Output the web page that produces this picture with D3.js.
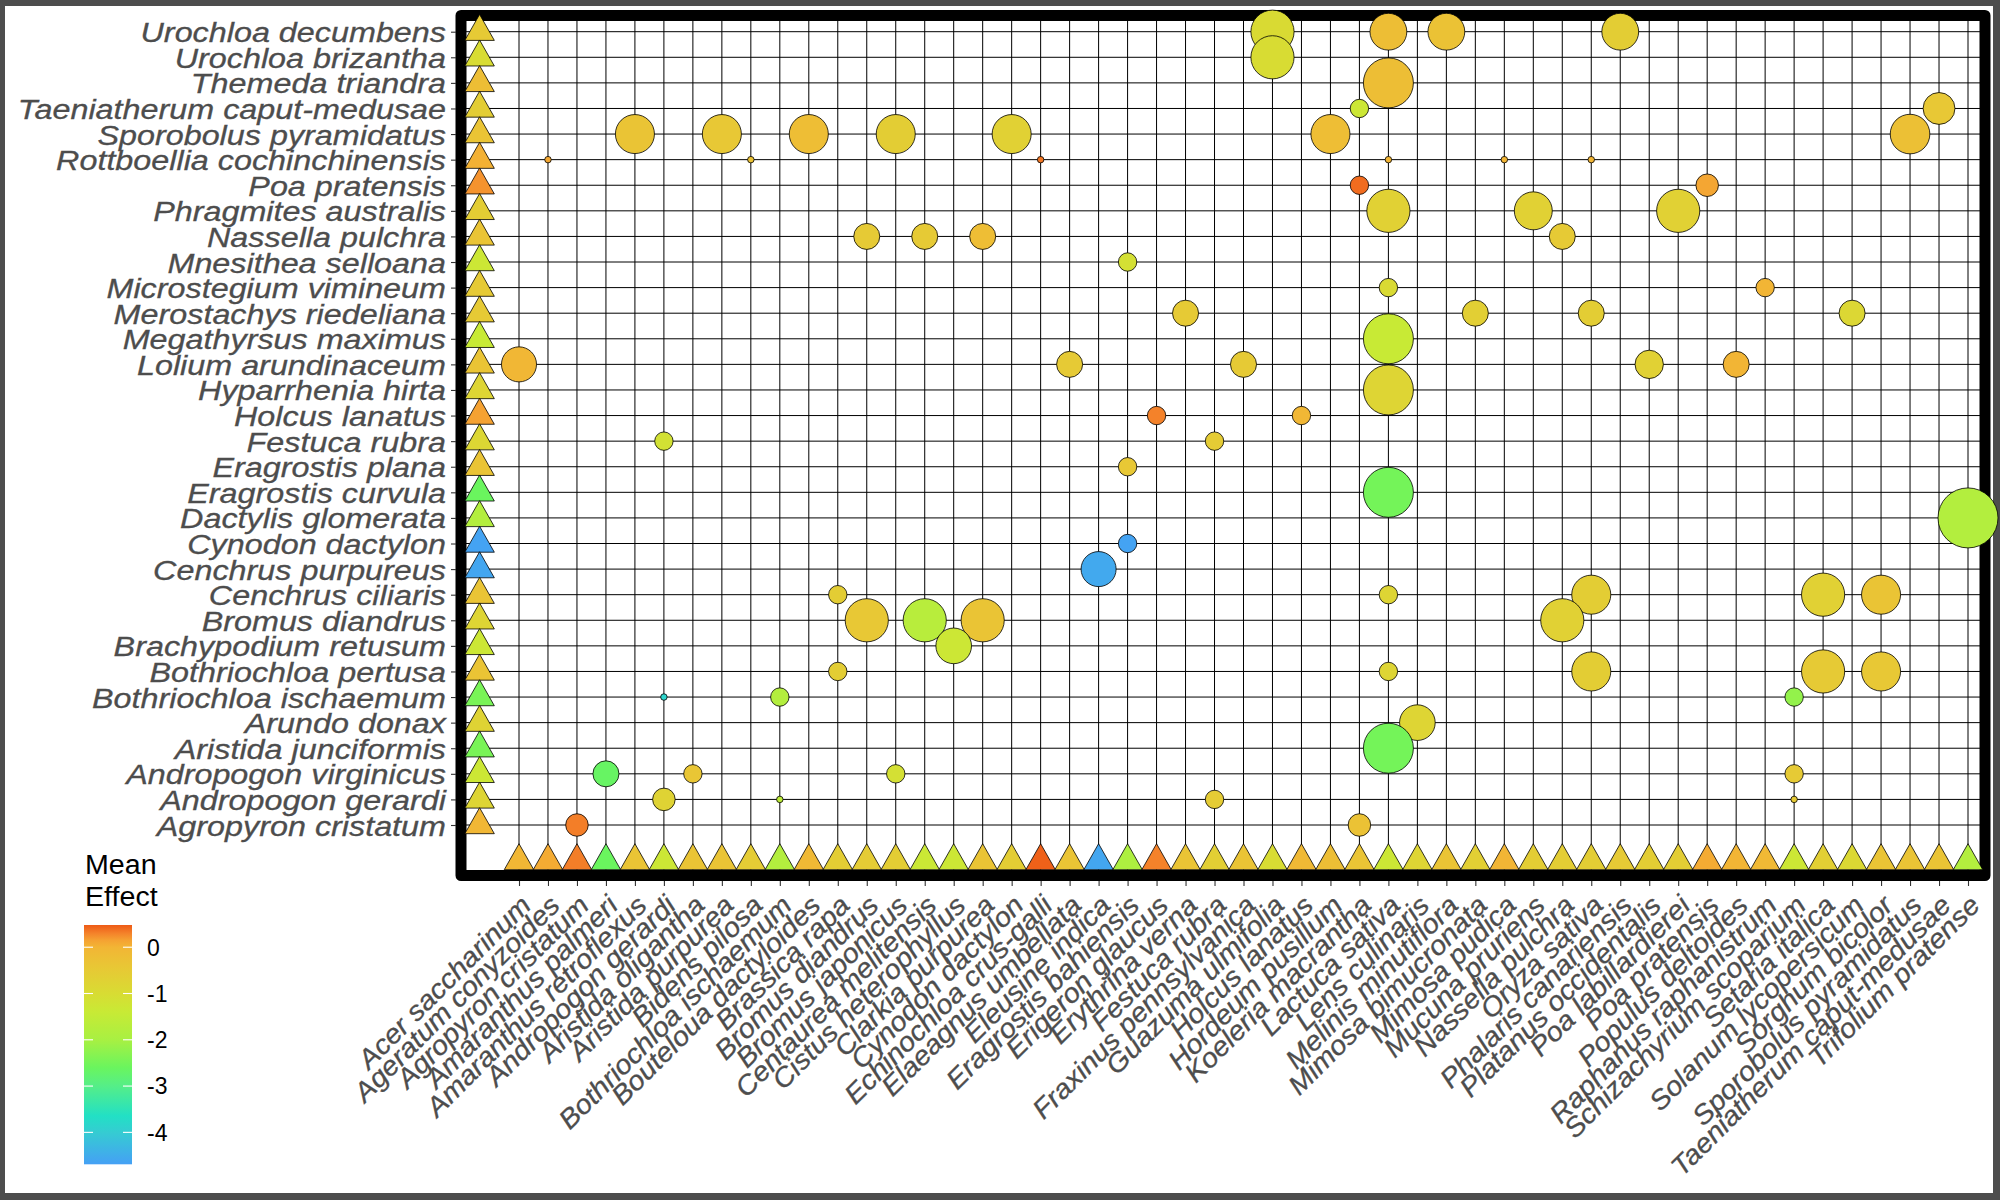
<!DOCTYPE html>
<html><head><meta charset="utf-8">
<script src="https://cdn.jsdelivr.net/npm/d3@7"></script>
<style>html,body{margin:0;padding:0;background:#fff}</style>
</head><body><svg id="c" width="2000" height="1200"></svg>
<script>
// ---------------- DATA ----------------
const rowSpecies = ["Urochloa decumbens","Urochloa brizantha","Themeda triandra","Taeniatherum caput-medusae","Sporobolus pyramidatus","Rottboellia cochinchinensis","Poa pratensis","Phragmites australis","Nassella pulchra","Mnesithea selloana","Microstegium vimineum","Merostachys riedeliana","Megathyrsus maximus","Lolium arundinaceum","Hyparrhenia hirta","Holcus lanatus","Festuca rubra","Eragrostis plana","Eragrostis curvula","Dactylis glomerata","Cynodon dactylon","Cenchrus purpureus","Cenchrus ciliaris","Bromus diandrus","Brachypodium retusum","Bothriochloa pertusa","Bothriochloa ischaemum","Arundo donax","Aristida junciformis","Andropogon virginicus","Andropogon gerardi","Agropyron cristatum"];
const rowMean = [-0.5,-1.0,-0.22,-0.6,-0.35,0.03,0.22,-0.6,-0.35,-1.3,-0.5,-0.5,-1.4,-0.35,-0.8,0.15,-0.85,-0.35,-2.6,-1.8,-4.65,-4.6,-0.35,-0.8,-1.3,-0.35,-2.45,-0.75,-2.45,-1.3,-0.8,-0.05];

const colSpecies = ["Acer saccharinum","Ageratum conyzoides","Agropyron cristatum","Amaranthus palmeri","Amaranthus retroflexus","Andropogon gerardi","Aristida oligantha","Aristida purpurea","Bidens pilosa","Bothriochloa ischaemum","Bouteloua dactyloides","Brassica rapa","Bromus diandrus","Bromus japonicus","Centaurea melitensis","Cistus heterophyllus","Clarkia purpurea","Cynodon dactylon","Echinochloa crus-galli","Elaeagnus umbellata","Eleusine indica","Eragrostis bahiensis","Erigeron glaucus","Erythrina verna","Festuca rubra","Fraxinus pennsylvanica","Guazuma ulmifolia","Holcus lanatus","Hordeum pusillum","Koeleria macrantha","Lactuca sativa","Lens culinaris","Melinis minutiflora","Mimosa bimucronata","Mimosa pudica","Mucuna pruriens","Nassella pulchra","Oryza sativa","Phalaris canariensis","Platanus occidentalis","Poa labillardierei","Poa pratensis","Populus deltoides","Raphanus raphanistrum","Schizachyrium scoparium","Setaria italica","Solanum lycopersicum","Sorghum bicolor","Sporobolus pyramidatus","Taeniatherum caput-medusae","Trifolium pratense"];
const colMean = [-0.05,0.08,0.32,-2.6,-0.35,-1.3,-0.35,-0.35,-0.55,-1.8,-0.1,-0.6,-0.55,-0.6,-1.35,-1.3,-0.35,-0.6,0.45,-0.35,-4.6,-1.9,0.3,-0.35,-0.65,-0.35,-1.0,-0.1,-0.22,-0.35,-1.3,-0.8,-0.35,-0.65,0.0,-0.6,-0.6,-0.6,-0.5,-0.6,-0.6,0.08,0.0,-0.1,-1.3,-0.65,-0.9,-0.35,-0.35,-0.35,-1.8];

// [row species, column species, number of observations, mean effect]
const effects = [
["Urochloa decumbens","Guazuma ulmifolia",44,-0.95],
["Urochloa decumbens","Lactuca sativa",32,-0.22],
["Urochloa decumbens","Melinis minutiflora",32,-0.3],
["Urochloa decumbens","Phalaris canariensis",32,-0.6],
["Urochloa brizantha","Guazuma ulmifolia",44,-1.0],
["Themeda triandra","Lactuca sativa",59,-0.22],
["Taeniatherum caput-medusae","Koeleria macrantha",8,-1.3],
["Taeniatherum caput-medusae","Taeniatherum caput-medusae",24,-0.45],
["Sporobolus pyramidatus","Amaranthus retroflexus",36,-0.35],
["Sporobolus pyramidatus","Aristida purpurea",36,-0.45],
["Sporobolus pyramidatus","Bouteloua dactyloides",36,-0.2],
["Sporobolus pyramidatus","Bromus japonicus",36,-0.6],
["Sporobolus pyramidatus","Cynodon dactylon",36,-0.7],
["Sporobolus pyramidatus","Hordeum pusillum",36,-0.2],
["Sporobolus pyramidatus","Sporobolus pyramidatus",37,-0.25],
["Rottboellia cochinchinensis","Ageratum conyzoides",1,0.1],
["Rottboellia cochinchinensis","Bidens pilosa",1,-0.3],
["Rottboellia cochinchinensis","Echinochloa crus-galli",1,0.35],
["Rottboellia cochinchinensis","Lactuca sativa",1,0.0],
["Rottboellia cochinchinensis","Mimosa pudica",1,0.0],
["Rottboellia cochinchinensis","Oryza sativa",1,0.0],
["Poa pratensis","Koeleria macrantha",8,0.4],
["Poa pratensis","Poa pratensis",12,0.12],
["Phragmites australis","Lactuca sativa",44,-0.7],
["Phragmites australis","Mucuna pruriens",34,-0.7],
["Phragmites australis","Poa labillardierei",44,-0.7],
["Nassella pulchra","Bromus diandrus",16,-0.5],
["Nassella pulchra","Centaurea melitensis",16,-0.5],
["Nassella pulchra","Clarkia purpurea",16,-0.2],
["Nassella pulchra","Nassella pulchra",16,-0.5],
["Mnesithea selloana","Eragrostis bahiensis",8,-1.1],
["Microstegium vimineum","Lactuca sativa",8,-0.95],
["Microstegium vimineum","Raphanus raphanistrum",8,0.0],
["Merostachys riedeliana","Erythrina verna",16,-0.5],
["Merostachys riedeliana","Mimosa bimucronata",16,-0.65],
["Merostachys riedeliana","Oryza sativa",16,-0.6],
["Merostachys riedeliana","Solanum lycopersicum",16,-0.85],
["Megathyrsus maximus","Lactuca sativa",59,-1.4],
["Lolium arundinaceum","Acer saccharinum",29,-0.05],
["Lolium arundinaceum","Elaeagnus umbellata",16,-0.5],
["Lolium arundinaceum","Fraxinus pennsylvanica",16,-0.5],
["Lolium arundinaceum","Platanus occidentalis",19,-0.7],
["Lolium arundinaceum","Populus deltoides",16,0.0],
["Hyparrhenia hirta","Lactuca sativa",59,-0.8],
["Holcus lanatus","Erigeron glaucus",8,0.3],
["Holcus lanatus","Holcus lanatus",8,-0.05],
["Festuca rubra","Andropogon gerardi",8,-1.15],
["Festuca rubra","Festuca rubra",8,-0.55],
["Eragrostis plana","Eragrostis bahiensis",8,-0.45],
["Eragrostis curvula","Lactuca sativa",59,-2.5],
["Dactylis glomerata","Trifolium pratense",85,-1.8],
["Cynodon dactylon","Eragrostis bahiensis",8,-4.65],
["Cenchrus purpureus","Eleusine indica",29,-4.55],
["Cenchrus ciliaris","Brassica rapa",8,-0.6],
["Cenchrus ciliaris","Lactuca sativa",8,-0.8],
["Cenchrus ciliaris","Oryza sativa",36,-0.6],
["Cenchrus ciliaris","Setaria italica",44,-0.7],
["Cenchrus ciliaris","Sorghum bicolor",36,-0.35],
["Bromus diandrus","Bromus diandrus",44,-0.45],
["Bromus diandrus","Centaurea melitensis",44,-1.7],
["Bromus diandrus","Clarkia purpurea",44,-0.35],
["Bromus diandrus","Nassella pulchra",44,-0.7],
["Brachypodium retusum","Cistus heterophyllus",30,-1.3],
["Bothriochloa pertusa","Brassica rapa",8,-0.6],
["Bothriochloa pertusa","Lactuca sativa",8,-0.8],
["Bothriochloa pertusa","Oryza sativa",36,-0.6],
["Bothriochloa pertusa","Setaria italica",44,-0.5],
["Bothriochloa pertusa","Sorghum bicolor",36,-0.45],
["Bothriochloa ischaemum","Andropogon gerardi",1,-3.85],
["Bothriochloa ischaemum","Bothriochloa ischaemum",8,-1.8],
["Bothriochloa ischaemum","Schizachyrium scoparium",8,-2.2],
["Arundo donax","Lens culinaris",30,-0.8],
["Aristida junciformis","Lactuca sativa",59,-2.5],
["Andropogon virginicus","Amaranthus palmeri",16,-2.65],
["Andropogon virginicus","Aristida oligantha",8,-0.4],
["Andropogon virginicus","Bromus japonicus",8,-1.1],
["Andropogon virginicus","Schizachyrium scoparium",8,-0.5],
["Andropogon gerardi","Andropogon gerardi",12,-0.75],
["Andropogon gerardi","Bothriochloa ischaemum",1,-1.6],
["Andropogon gerardi","Festuca rubra",8,-0.55],
["Andropogon gerardi","Schizachyrium scoparium",1,-0.5],
["Agropyron cristatum","Agropyron cristatum",12,0.32],
["Agropyron cristatum","Koeleria macrantha",12,-0.3]
];

const legendTicks = [0,-1,-2,-3,-4];
const colorStopValues = [0.48,0.3,0.15,0,-0.4,-1,-1.4,-2,-2.6,-3,-3.65,-4.0,-4.69];
const colorStopColors = ["#EE5A16","#F4822A","#F5A232","#F2B535","#E9C635","#D8DC33","#C8EA35","#A8F042","#6AF55E","#55EE88","#22E0C5","#35CCD2","#45A0F5"];

// ---------------- LAYOUT ----------------
const W = 2000, H = 1200;
const panel = {left: 466, right: 1980, top: 21, bottom: 870};
const FONT = "'Liberation Sans', Arial, sans-serif";

const svg = d3.select("#c");
svg.append("rect").attr("width", W).attr("height", H).attr("fill", "#4d4d4d");
svg.append("rect").attr("x", 5).attr("y", 6).attr("width", 1988).attr("height", 1187).attr("fill", "#fff");

const x = d3.scalePoint().domain(colSpecies).range([519, 1968]);
const y = d3.scalePoint().domain(rowSpecies).range([31.7, 825]);
const color = d3.scaleLinear().domain(colorStopValues).range(colorStopColors).clamp(true);
const radius = d3.scaleSqrt().domain([0, 85]).range([0, 30]);

const rowMarginX = x(colSpecies[0]) - 1.36 * x.step();
const colMarginY = y(rowSpecies[rowSpecies.length - 1]) + 36;

// grid
const grid = svg.append("g");
grid.selectAll("line.v").data(colSpecies).join("line")
  .attr("x1", d => x(d)).attr("x2", d => x(d))
  .attr("y1", panel.top).attr("y2", panel.bottom)
  .attr("stroke", "#000").attr("stroke-width", 1);
grid.selectAll("line.h").data(rowSpecies).join("line")
  .attr("x1", panel.left).attr("x2", panel.right)
  .attr("y1", d => y(d)).attr("y2", d => y(d))
  .attr("stroke", "#000").attr("stroke-width", 1);

// border
svg.append("rect")
  .attr("x", 461).attr("y", 15.5).attr("width", 1524).attr("height", 860)
  .attr("fill", "none").attr("stroke", "#000").attr("stroke-width", 11)
  .attr("stroke-linejoin", "round");

// triangles
const tri = "M0,-17.3L14.75,8.7L-14.75,8.7Z";
svg.append("g").selectAll("path").data(rowSpecies).join("path")
  .attr("d", tri)
  .attr("transform", d => `translate(${rowMarginX},${y(d)})`)
  .attr("fill", (d, i) => color(rowMean[i]))
  .attr("stroke", "#000").attr("stroke-width", 0.8);
svg.append("g").selectAll("path").data(colSpecies).join("path")
  .attr("d", tri)
  .attr("transform", d => `translate(${x(d)},${colMarginY})`)
  .attr("fill", (d, i) => color(colMean[i]))
  .attr("stroke", "#000").attr("stroke-width", 0.8);

// bubbles
svg.append("g").selectAll("circle").data(effects).join("circle")
  .attr("cx", d => x(d[1])).attr("cy", d => y(d[0]))
  .attr("r", d => radius(d[2]))
  .attr("fill", d => color(d[3]))
  .attr("stroke", "#000").attr("stroke-width", 0.8);

// axes
const yAxis = svg.append("g").attr("transform", `translate(456,0)`)
  .call(d3.axisLeft(y).tickSize(5).tickPadding(0));
yAxis.select(".domain").remove();
yAxis.selectAll(".tick line").attr("stroke", "#333").attr("stroke-width", 1.1);
yAxis.selectAll(".tick text")
  .attr("x", null).attr("dy", null).attr("y", null)
  .attr("transform", "translate(-10,10) scale(1.155,1)")
  .attr("text-anchor", "end")
  .attr("fill", "#4d4d4d").attr("stroke", "#4d4d4d").attr("stroke-width", 0.3)
  .style("font-family", FONT)
  .style("font-style", "italic").style("font-size", "28px");

const xAxis = svg.append("g").attr("transform", `translate(0,881)`)
  .call(d3.axisBottom(x).tickSize(5).tickPadding(0));
xAxis.select(".domain").remove();
xAxis.selectAll(".tick line").attr("stroke", "#333").attr("stroke-width", 1.1);
xAxis.selectAll(".tick text")
  .attr("y", null).attr("dy", null)
  .attr("transform", "translate(13,26) rotate(-45) scale(1.07,1)")
  .attr("text-anchor", "end")
  .attr("fill", "#4d4d4d").attr("stroke", "#4d4d4d").attr("stroke-width", 0.3)
  .style("font-family", FONT)
  .style("font-style", "italic").style("font-size", "27px");

// legend
const leg = svg.append("g");
leg.append("text").attr("transform", "translate(85,874) scale(1.06,1)").text("Mean")
  .attr("fill", "#000").style("font-family", FONT).style("font-size", "27px");
leg.append("text").attr("transform", "translate(85,906) scale(1.06,1)").text("Effect")
  .attr("fill", "#000").style("font-family", FONT).style("font-size", "27px");

const ly = d3.scaleLinear().domain([0.48, -4.69]).range([925, 1164.3]);
const defs = svg.append("defs");
const grad = defs.append("linearGradient").attr("id", "lg")
  .attr("x1", 0).attr("y1", 0).attr("x2", 0).attr("y2", 1);
colorStopValues.forEach((v, i) => {
  grad.append("stop")
    .attr("offset", (ly(v) - 925) / (1164.3 - 925))
    .attr("stop-color", colorStopColors[i]);
});
leg.append("rect").attr("x", 84).attr("y", 925).attr("width", 48).attr("height", 239.3)
  .attr("fill", "url(#lg)");
leg.selectAll("line.tl").data(legendTicks).join("line")
  .attr("x1", 84).attr("x2", 93).attr("y1", d => ly(d)).attr("y2", d => ly(d))
  .attr("stroke", "#fff").attr("stroke-width", 1.1);
leg.selectAll("line.tr").data(legendTicks).join("line")
  .attr("x1", 123).attr("x2", 132).attr("y1", d => ly(d)).attr("y2", d => ly(d))
  .attr("stroke", "#fff").attr("stroke-width", 1.1);
leg.selectAll("text.lab").data(legendTicks).join("text")
  .attr("x", 147).attr("y", d => ly(d) + 8.3)
  .text(d => d)
  .attr("fill", "#000").style("font-family", FONT).style("font-size", "23px");
</script>
</body></html>
